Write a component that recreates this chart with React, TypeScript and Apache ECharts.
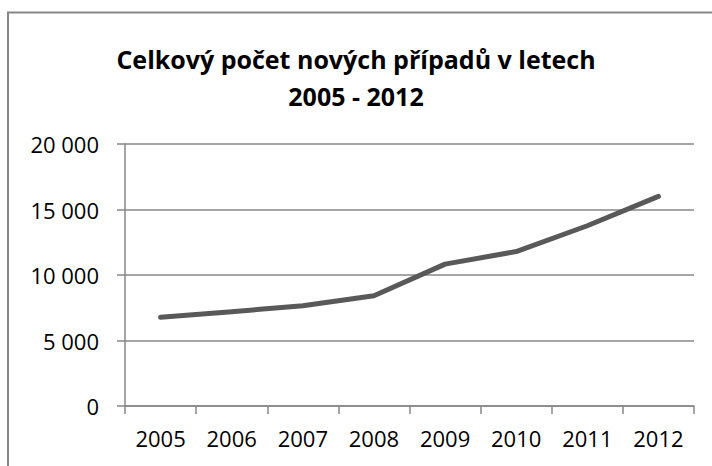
import React, { useEffect, useRef } from "react";
import * as echarts from "echarts";

const titleLines = ["Celkový počet nových případů v letech", "2005 - 2012"];
const years = ["2005", "2006", "2007", "2008", "2009", "2010", "2011", "2012"];
const cases = [6770, 7200, 7650, 8420, 10830, 11790, 13760, 16000];
const yMin = 0;
const yMax = 20000;
const yStep = 5000;

const FONT = '"Open Sans", "Noto Sans", sans-serif';

export default function App() {
  const ref = useRef<HTMLDivElement>(null);
  useEffect(() => {
    if (!ref.current) return;
    const chart = echarts.init(ref.current, null, { renderer: "svg" });
    chart.setOption({
      animation: false,
      backgroundColor: "#ffffff",
      title: {
        text: titleLines.join("\n"),
        left: "center",
        top: 35,
        textStyle: {
          fontFamily: FONT,
          fontWeight: "bold",
          fontSize: 25,
          color: "#000000",
          lineHeight: 37,
        },
      },
      graphic: [
        {
          type: "polyline",
          shape: { points: [[8, 466], [8, 12.5], [712, 12.5]] },
          style: { stroke: "#878787", lineWidth: 2, fill: "none" },
          silent: true,
        },
      ],
      grid: { left: 125, right: 18, top: 144, bottom: 60 },
      xAxis: {
        type: "category",
        data: years,
        boundaryGap: true,
        axisLine: { show: true, lineStyle: { color: "#878787", width: 1.5 } },
        axisTick: { show: true, length: 8, lineStyle: { color: "#878787", width: 1.5 } },
        axisLabel: {
          interval: 0,
          color: "#000000",
          fontFamily: FONT,
          fontSize: 22,
          margin: 21,
        },
        splitLine: { show: false },
      },
      yAxis: {
        type: "value",
        min: yMin,
        max: yMax,
        interval: yStep,
        axisLine: { show: true, lineStyle: { color: "#878787", width: 1.5 } },
        axisTick: { show: true, length: 8, lineStyle: { color: "#878787", width: 1.5 } },
        axisLabel: {
          color: "#000000",
          fontFamily: FONT,
          fontSize: 22,
          margin: 26,
          formatter: (v: number) =>
            String(v).replace(/\B(?=(\d{3})+(?!\d))/g, " "),
        },
        splitLine: { show: true, lineStyle: { color: "#878787", width: 1.5 } },
      },
      series: [
        {
          type: "line",
          data: cases,
          symbol: "none",
          lineStyle: { color: "#595959", width: 5, cap: "round", join: "round" },
        },
      ],
    });
    return () => chart.dispose();
  }, []);
  return (
    <div
      ref={ref}
      style={{ position: "fixed", left: 0, top: 0, width: 712, height: 466 }}
    />
  );
}
